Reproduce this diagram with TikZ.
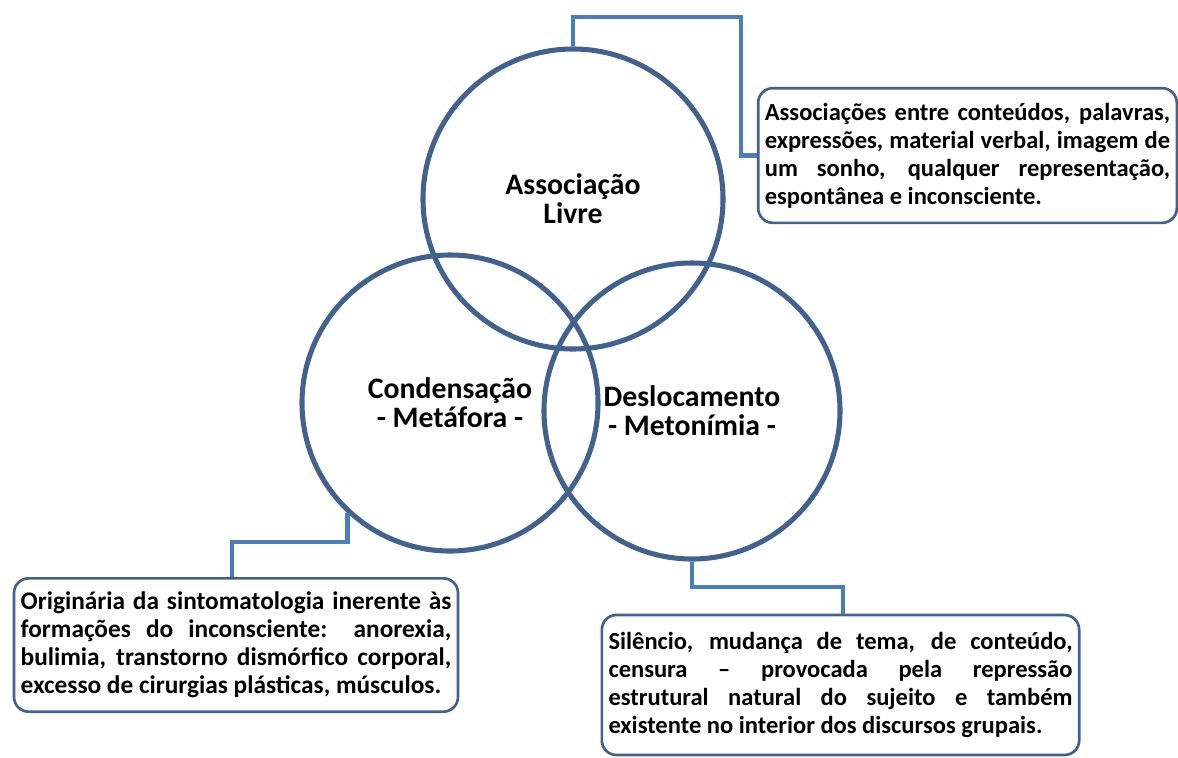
\documentclass[tikz,border=0pt]{standalone}
\usepackage{fontspec}
\setmainfont{Carlito}
\usepackage{tikz}
\definecolor{Ring}{HTML}{41628F}
\definecolor{Link}{HTML}{4A7EBB}
\definecolor{Edge}{HTML}{41628F}

\tikzset{
  ring/.style={circle, draw=Ring, line width=3.8pt, minimum size=225pt, inner sep=0pt, align=center, font=\fontsize{22.3}{21.8}\selectfont\bfseries},
  link/.style={draw=Link, line width=3.6pt},
  note/.style={draw=Edge, line width=2pt, rounded corners=11pt, align=justify, inner xsep=5pt, font=\fontsize{18.4}{21}\selectfont\bfseries}
}

\begin{document}
\begin{tikzpicture}[x=0.75pt, y=-0.75pt]%
\useasboundingbox (0,0) rectangle (1178,757);%
% circles
\node[ring] (assoc) at (573,199) {Associação\\Livre};%
\node[ring, minimum size=222pt] (cond) at (450,403) {Condensação\\- Metáfora -};%
\node[ring, minimum size=222pt] (desl) at (692,411) {Deslocamento\\- Metonímia -};%
% notes
\node[note, text width=304pt, minimum height=101pt] (note1) at (967.5,155.5) {Associações entre conteúdos, palavras,\linebreak expressões, material verbal, imagem de\linebreak um sonho, qualquer representação,\linebreak espontânea e inconsciente.};%
\node[note, text width=323pt, minimum height=100pt, font=\fontsize{19}{21}\selectfont\bfseries] (note2) at (236,645) {Originária da sintomatologia inerente às\linebreak formações do inconsciente: anorexia,\linebreak bulimia, transtorno dismórfico corporal,\linebreak excesso de cirurgias plásticas, músculos.};%
\node[note, text width=348pt, minimum height=105pt] (note3) at (840.5,685) {Silêncio, mudança de tema, de conteúdo,\linebreak censura -- provocada pela repressão\linebreak estrutural natural do sujeito e também\linebreak existente no interior dos discursos grupais.};%
% connectors
\coordinate (k1) at (741,17);%
\coordinate (k2) at (232,542);%
\coordinate (k3) at (843,587);%
\draw[link] (assoc.north) |- (k1) |- (note1.west);%
\draw[link] (cond.227) |- (k2) -- (k2 |- note2.north);%
\draw[link] (desl.south) |- (k3) -- (k3 |- note3.north);%
\end{tikzpicture}
\end{document}
